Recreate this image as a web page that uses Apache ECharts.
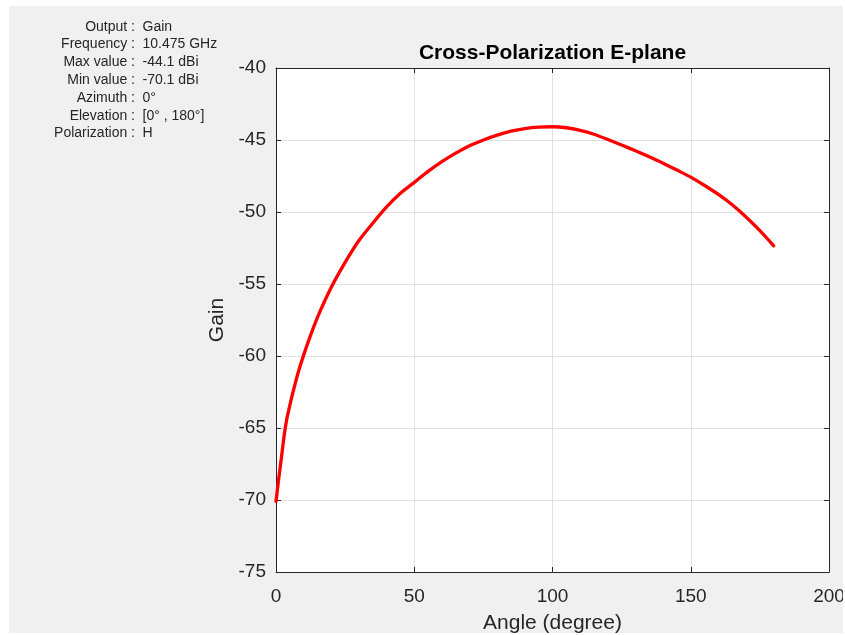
<!DOCTYPE html>
<html>
<head>
<meta charset="utf-8">
<script src="https://cdn.jsdelivr.net/npm/echarts@6/dist/echarts.min.js"></script>
<style>
  html, body { margin: 0; padding: 0; background: #ffffff; width: 845px; height: 635px; overflow: hidden; }
  #chart { position: absolute; left: 9px; top: 6px; width: 834px; height: 627px; }
</style>
</head>
<body>
<div id="chart"></div>
<script>
// ---- data ----
const angles = [0, 1, 2, 3, 4, 5, 6, 8, 10, 12, 15, 20, 25, 30, 35, 40, 45, 50, 55, 60, 65, 70, 75, 80, 85, 90, 95, 100, 105, 110, 115, 120, 125, 130, 135, 140, 145, 150, 155, 160, 165, 170, 175, 180];
const gain = [-70.1, -68.5, -67.0, -65.45, -64.28, -63.43, -62.62, -61.16, -59.94, -58.83, -57.32, -55.23, -53.5, -51.98, -50.78, -49.65, -48.7, -47.94, -47.18, -46.5, -45.91, -45.4, -45.0, -44.66, -44.39, -44.21, -44.11, -44.08, -44.15, -44.33, -44.6, -44.97, -45.35, -45.75, -46.17, -46.61, -47.09, -47.58, -48.16, -48.78, -49.5, -50.35, -51.3, -52.35];
const xTicks = [0, 50, 100, 150, 200];
const yTicks = [-75, -70, -65, -60, -55, -50, -45, -40];
const infoLabels = ['Output :', 'Frequency :', 'Max value :', 'Min value :', 'Azimuth :', 'Elevation :', 'Polarization :'];
const infoValues = ['Gain', '10.475 GHz', '-44.1 dBi', '-70.1 dBi', '0°', '[0° , 180°]', 'H'];
const titleText = 'Cross-Polarization E-plane';
const xName = 'Angle (degree)';
const yName = 'Gain';

const points = angles.map((a, i) => [a, gain[i]]);
const axisColor = '#262626';
const gridColor = '#e1e1e1';
const FONT = '"Liberation Sans", Arial, sans-serif';

const graphics = [];
const infoY0 = 20.7, infoDy = 17.8;
infoLabels.forEach((t, i) => {
  graphics.push({
    type: 'text', x: 126, y: infoY0 + i * infoDy,
    style: { text: t, fill: '#262626', font: '14px ' + FONT, textAlign: 'right', textVerticalAlign: 'middle' }
  });
  graphics.push({
    type: 'text', x: 133.5, y: infoY0 + i * infoDy,
    style: { text: infoValues[i], fill: '#262626', font: '14px ' + FONT, textAlign: 'left', textVerticalAlign: 'middle' }
  });
});
graphics.push({
  type: 'text', x: 543.5, y: 47,
  style: { text: titleText, fill: '#000000', font: 'bold 21px ' + FONT, textAlign: 'center', textVerticalAlign: 'middle' }
});

const chart = echarts.init(document.getElementById('chart'), null, { renderer: 'canvas' });
chart.setOption({
  backgroundColor: '#f0f0f0',
  animation: false,
  textStyle: { fontFamily: FONT },
  graphic: graphics,
  grid: { left: 267, top: 62, width: 553, height: 504, show: true, backgroundColor: '#ffffff', borderWidth: 0, containLabel: false, outerBoundsMode: 'none' },
  xAxis: [{
    type: 'value', min: xTicks[0], max: xTicks[xTicks.length - 1], interval: 50, position: 'bottom',
    name: xName, nameLocation: 'middle', nameGap: 41,
    nameTextStyle: { fontSize: 21, color: axisColor, fontFamily: FONT },
    axisLine: { show: true, onZero: false, lineStyle: { color: axisColor, width: 1 } },
    axisTick: { show: true, inside: true, length: 5, lineStyle: { color: axisColor } },
    axisLabel: { show: true, fontSize: 19, color: axisColor, margin: 15, fontFamily: FONT },
    splitLine: { show: true, lineStyle: { color: gridColor, width: 1 } }
  }, {
    type: 'value', min: xTicks[0], max: xTicks[xTicks.length - 1], interval: 50, position: 'top',
    axisLine: { show: true, onZero: false, lineStyle: { color: axisColor, width: 1 } },
    axisTick: { show: true, inside: true, length: 5, lineStyle: { color: axisColor } },
    axisLabel: { show: false }, splitLine: { show: false }
  }],
  yAxis: [{
    type: 'value', min: yTicks[0], max: yTicks[yTicks.length - 1], interval: 5, position: 'left',
    name: yName, nameLocation: 'middle', nameGap: 45,
    nameTextStyle: { fontSize: 21, color: axisColor, fontFamily: FONT },
    axisLine: { show: true, onZero: false, lineStyle: { color: axisColor, width: 1 } },
    axisTick: { show: true, inside: true, length: 5, lineStyle: { color: axisColor } },
    axisLabel: { show: true, fontSize: 19, color: axisColor, margin: 10, fontFamily: FONT, padding: [4, 0, 0, 0] },
    splitLine: { show: true, lineStyle: { color: gridColor, width: 1 } }
  }, {
    type: 'value', min: yTicks[0], max: yTicks[yTicks.length - 1], interval: 5, position: 'right',
    axisLine: { show: true, onZero: false, lineStyle: { color: axisColor, width: 1 } },
    axisTick: { show: true, inside: true, length: 5, lineStyle: { color: axisColor } },
    axisLabel: { show: false }, splitLine: { show: false }
  }],
  series: [{
    type: 'line', xAxisIndex: 0, yAxisIndex: 0,
    data: points, showSymbol: false, symbol: 'none',
    smooth: 0.25, clip: false,
    lineStyle: { color: '#ff0000', width: 3.3, join: 'round', cap: 'round' }
  }]
});
</script>
</body>
</html>
